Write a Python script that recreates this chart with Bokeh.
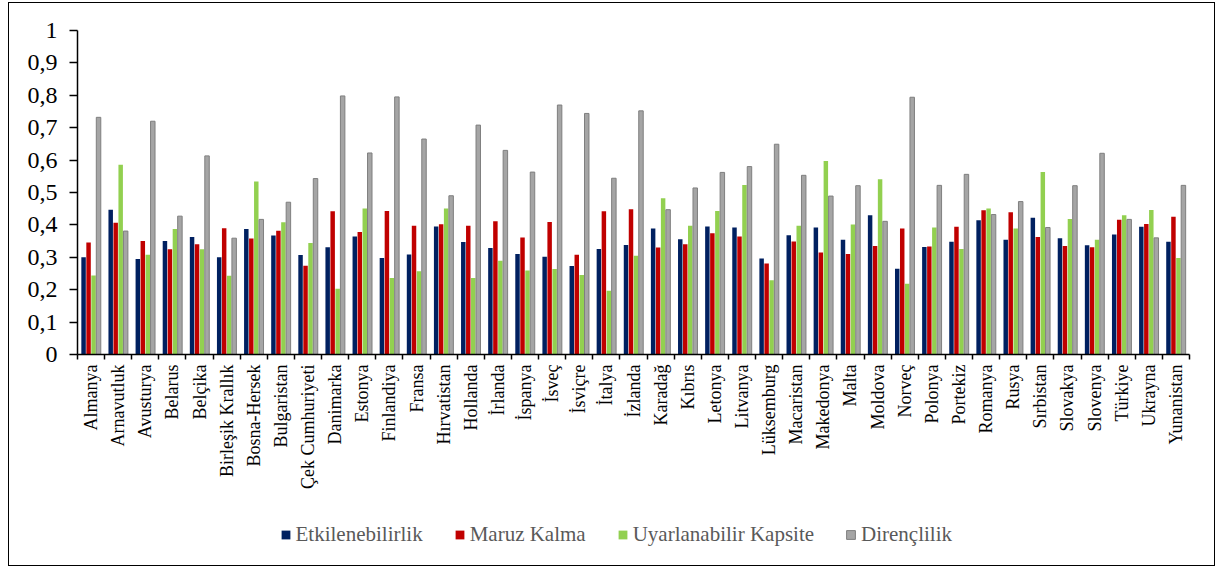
import math
from bokeh.plotting import figure
from bokeh.layouts import column
from bokeh.models import (ColumnDataSource, Range1d, FixedTicker, CustomJSTickFormatter,
                          Legend, LegendItem)
from bokeh.transform import dodge
from bokeh.embed import file_html
from bokeh.resources import INLINE

countries = ["Almanya", "Arnavutluk", "Avusturya", "Belarus", "Belçika", "Birleşik Krallık",
             "Bosna-Hersek", "Bulgaristan", "Çek Cumhuriyeti", "Danimarka", "Estonya",
             "Finlandiya", "Fransa", "Hırvatistan", "Hollanda", "İrlanda", "İspanya", "İsveç",
             "İsviçre", "İtalya", "İzlanda", "Karadağ", "Kıbrıs", "Letonya", "Litvanya",
             "Lüksemburg", "Macaristan", "Makedonya", "Malta", "Moldova", "Norveç", "Polonya",
             "Portekiz", "Romanya", "Rusya", "Sırbistan", "Slovakya", "Slovenya", "Türkiye",
             "Ukrayna", "Yunanistan"]

etkilenebilirlik = [0.300, 0.447, 0.295, 0.350, 0.363, 0.300, 0.387, 0.367, 0.307, 0.331,
                    0.364, 0.298, 0.309, 0.395, 0.347, 0.329, 0.310, 0.302, 0.273, 0.326,
                    0.338, 0.389, 0.356, 0.395, 0.392, 0.296, 0.368, 0.392, 0.354, 0.430,
                    0.265, 0.332, 0.348, 0.414, 0.354, 0.422, 0.359, 0.337, 0.370, 0.394, 0.348]
maruz_kalma = [0.346, 0.407, 0.350, 0.325, 0.340, 0.390, 0.358, 0.382, 0.274, 0.442,
               0.378, 0.443, 0.397, 0.402, 0.397, 0.411, 0.361, 0.409, 0.308, 0.442,
               0.448, 0.330, 0.340, 0.374, 0.364, 0.281, 0.349, 0.315, 0.310, 0.335,
               0.389, 0.333, 0.394, 0.445, 0.439, 0.363, 0.335, 0.331, 0.416, 0.403, 0.425]
uyarlanabilir = [0.244, 0.586, 0.308, 0.387, 0.325, 0.243, 0.534, 0.408, 0.344, 0.203,
                 0.451, 0.236, 0.257, 0.451, 0.236, 0.289, 0.259, 0.264, 0.245, 0.197,
                 0.305, 0.482, 0.397, 0.443, 0.523, 0.229, 0.397, 0.597, 0.401, 0.541,
                 0.218, 0.392, 0.326, 0.451, 0.389, 0.563, 0.418, 0.354, 0.430, 0.446, 0.298]
direnclilik = [0.732, 0.381, 0.720, 0.427, 0.613, 0.359, 0.417, 0.470, 0.543, 0.798,
               0.622, 0.795, 0.665, 0.490, 0.708, 0.630, 0.563, 0.770, 0.744, 0.544,
               0.752, 0.447, 0.514, 0.562, 0.580, 0.649, 0.553, 0.489, 0.521, 0.411,
               0.794, 0.522, 0.556, 0.432, 0.472, 0.392, 0.521, 0.621, 0.417, 0.360, 0.522]

series_names = ["Etkilenebilirlik", "Maruz Kalma", "Uyarlanabilir Kapsite", "Dirençlilik"]
y_ticks = [0.0, 0.1, 0.2, 0.3, 0.4, 0.5, 0.6, 0.7, 0.8, 0.9, 1.0]

FONT = "Liberation Serif"

src = ColumnDataSource(dict(
    x=[i + 0.5 for i in range(len(countries))],
    etk=etkilenebilirlik, mar=maruz_kalma, uya=uyarlanabilir, dir=direnclilik,
))

p = figure(width=1205, height=500, output_backend="svg", toolbar_location=None,
           x_range=Range1d(0, len(countries)), y_range=Range1d(0, 1),
           min_border_left=68, min_border_right=25, min_border_top=27, min_border_bottom=149)
p.outline_line_color = None
p.xgrid.grid_line_color = None
p.ygrid.grid_line_color = None
p.background_fill_color = "white"
p.border_fill_color = "white"

w = 0.165
specs = [("etk", -0.276, "#002060", None),
         ("mar", -0.092, "#c00000", None),
         ("uya", 0.092, "#92d050", None),
         ("dir", 0.276, "#a5a5a5", "#7f7f7f")]
for col, off, fill, line in specs:
    p.vbar(x=dodge("x", off, range=p.x_range), top=col, width=w, bottom=0, source=src,
           fill_color=fill, line_color=line if line else None, line_width=1)

# y axis
p.yaxis.ticker = FixedTicker(ticks=y_ticks)
p.yaxis.formatter = CustomJSTickFormatter(code="""
    if (Math.abs(tick - Math.round(tick)) < 1e-9) { return String(Math.round(tick)); }
    return tick.toFixed(1).replace('.', ',');
""")
p.yaxis.major_label_text_font = FONT
p.yaxis.major_label_text_font_size = "24px"
p.yaxis.major_label_text_color = "black"
p.yaxis.major_tick_out = 8
p.yaxis.major_tick_in = 0
p.yaxis.minor_tick_line_color = None
p.yaxis.major_label_standoff = 12
p.yaxis.axis_line_width = 1.5
p.yaxis.axis_line_color = "black"
p.yaxis.major_tick_line_width = 1.5

# x axis
p.xaxis.ticker = FixedTicker(ticks=[i + 0.5 for i in range(len(countries))],
                             minor_ticks=list(range(len(countries) + 1)))
p.xaxis.formatter = CustomJSTickFormatter(args=dict(names=countries),
                                          code="return names[Math.floor(tick)];")
p.xaxis.major_label_orientation = math.pi / 2
p.xaxis.major_label_text_font = FONT
p.xaxis.major_label_text_font_size = "18px"
p.xaxis.major_label_text_color = "black"
p.xaxis.major_tick_out = 0
p.xaxis.major_tick_in = 0
p.xaxis.minor_tick_out = 5
p.xaxis.minor_tick_in = 0
p.xaxis.minor_tick_line_width = 1.5
p.xaxis.minor_tick_line_color = "black"
p.xaxis.major_label_standoff = 5
p.xaxis.axis_line_width = 1.5
p.xaxis.axis_line_color = "black"

# legend strip (frame aligned with the chart frame above)
q = figure(width=1205, height=62, output_backend="svg", toolbar_location=None,
           x_range=Range1d(0, 1), y_range=Range1d(0, 1),
           x_axis_type=None, y_axis_type=None,
           min_border=0, min_border_left=0, min_border_right=0, min_border_top=0, min_border_bottom=0)
q.outline_line_color = None
q.xgrid.grid_line_color = None
q.ygrid.grid_line_color = None
q.border_fill_color = "white"
leg_renderers = []
for (col, off, fill, line) in specs:
    # one hidden key bar per series, placed outside the visible range: only its legend swatch shows
    key_src = ColumnDataSource(dict(x=[-5.0], top=[0.0]))
    r = q.vbar(x="x", top="top", width=0.1, source=key_src,
               fill_color=fill, line_color=line if line else None, line_width=1)
    leg_renderers.append(r)

legend = Legend(items=[LegendItem(label=n, renderers=[r]) for n, r in zip(series_names, leg_renderers)],
                orientation="horizontal", location=(203, 18))
legend.label_text_font = FONT
legend.label_text_font_size = "21px"
legend.label_text_color = "#595959"
legend.glyph_width = 11
legend.glyph_height = 11
legend.label_standoff = 5
legend.spacing = 31
legend.padding = 0
legend.margin = 0
legend.border_line_color = None
legend.background_fill_alpha = 0
q.add_layout(legend, "center")

layout = column(p, q, spacing=0,
                styles={"margin-left": "7.5px", "margin-top": "2px", "border": "1.5px solid #000"})

open("out.html", "w").write(file_html(layout, INLINE))
